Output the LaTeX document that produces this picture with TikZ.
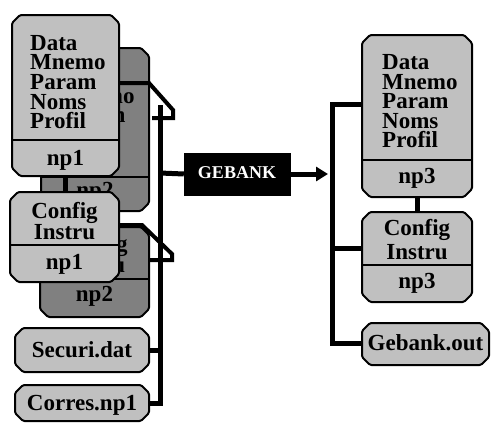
\documentclass[tikz,border=0pt]{standalone}
\usepackage{fontspec}
\setmainfont{Liberation Serif}
\usetikzlibrary{arrows.meta}
\definecolor{boxlight}{RGB}{192,192,192}
\definecolor{boxdark}{RGB}{128,128,128}
\tikzset{
  x=1pt, y=-1pt,
  boxline/.style={draw=black, line width=2pt, rounded corners=1.5pt, line join=round},
  anchorbox/.style={inner sep=0pt, outer sep=0pt, draw=none},
  txt/.style={inner sep=0pt, font=\fontsize{23}{23}\selectfont\bfseries},
  gebtxt/.style={inner sep=0pt, font=\fontsize{18}{18}\selectfont\bfseries, text=white},
  wire/.style={draw=black, line width=5pt, line join=miter},
  flagline/.style={draw=black, line width=4pt, line join=miter},
}
% chamfered box: name, x1, y1, x2, y2, fill colour
\newcommand\chambox[6]{%
  \draw[boxline,fill=#6] ({#2+8},#3) -- ({#4-8},#3) -- (#4,{#3+8}) -- (#4,{#5-8})
    -- ({#4-8},#5) -- ({#2+8},#5) -- (#2,{#5-8}) -- (#2,{#3+8}) -- cycle;
  \node[anchorbox,minimum width={(#4-#2)*1pt},minimum height={(#5-#3)*1pt}]
    (#1) at ({(#2+#4)/2},{(#3+#5)/2}) {};
}
% horizontal divider across a box at height y
\newcommand\divider[2]{\draw[boxline] (#1.west |- 0,#2) -- (#1.east |- 0,#2);}
\begin{document}
\begin{tikzpicture}
\useasboundingbox (0,0) rectangle (491,423);

% ---- stacked copies behind (np2)
\chambox{Lb}{41}{48}{149}{211}{boxdark}
\divider{Lb}{177}
\foreach \t/\b [count=\i] in {Data/83,Mnemo/103,Param/122.5,Noms/142,Profil/161}
  \node[txt,anchor=base west] (Lbt\i) at (59,\b) {\t};
\node[txt,anchor=base] (Lbn) at (95,197) {np2};

\chambox{Cb}{40}{227}{149}{317}{boxdark}
\divider{Cb}{279}
\node[txt,anchor=base] (Cbt1) at (94.5,251) {Config};
\node[txt,anchor=base] (Cbt2) at (94.5,272) {Instru};
\node[txt,anchor=base] (Cbn) at (94.5,301) {np2};

% ---- attachment flags of the back copies
\draw[flagline] (119,83) coordinate (fa1) -- (149,83) -- (173,110) -- (173,118) -- (152,118) coordinate (fa2);
\draw[flagline] (119,225) coordinate (fb1) -- (142,225) -- (172,254) -- (172,260) -- (150,260) coordinate (fb2);

% ---- input files
\chambox{Sec}{15}{328}{149}{372}{boxlight}
\node[txt,anchor=base] (Sect) at (82,357) {Securi.dat};
\chambox{Cor}{15}{385}{149}{421}{boxlight}
\node[txt,anchor=base] (Cort) at (82,410) {Corres.np1};

% ---- left bus
\coordinate (busTop) at (160,105);
\coordinate (busSec) at (160,350);
\coordinate (busGeb) at (160,173);
\draw[wire] (busTop) -- (busTop |- Cor.east) -- (Cor.east);
\draw[wire] (busSec) -- (Sec.east);

% ---- front boxes (np1)
\chambox{Lf}{12}{15}{119}{176}{boxlight}
\divider{Lf}{140}
\foreach \t/\b [count=\i] in {Data/50,Mnemo/70,Param/89.5,Noms/109,Profil/128}
  \node[txt,anchor=base west] (Lft\i) at (30,\b) {\t};
\node[txt,anchor=base] (Lfn) at (65.5,165) {np1};

\chambox{Cf}{10}{192}{119}{282}{boxlight}
\divider{Cf}{245}
\node[txt,anchor=base] (Cft1) at (64.5,218) {Config};
\node[txt,anchor=base] (Cft2) at (64.5,239) {Instru};
\node[txt,anchor=base] (Cfn) at (64.5,269) {np1};

\draw[wire] (Lf.south) -- (Lf.south |- Cf.north);

% ---- GEBANK
\node[fill=black, draw=black, minimum width=106pt, minimum height=42pt, inner sep=0pt] (geb) at (237,174) {};
\node[gebtxt,anchor=base] (gebt) at (237,178) {GEBANK};
\draw[wire] (busGeb) -- (geb.west);

% ---- right bus
\coordinate (rbusTop) at (332,104);
\coordinate (rbusGeb) at (332,174);
\coordinate (rbusCfg) at (332,248);
\coordinate (rbusOut) at (332,343);
\draw[wire, -{Triangle[length=12pt,width=14pt]}, shorten >=4pt] (geb.east) -- (rbusGeb);

% ---- outputs (np3)
\chambox{Rf}{362}{35}{472}{197}{boxlight}
\divider{Rf}{160}
\foreach \t/\b [count=\i] in {Data/70,Mnemo/89,Param/108,Noms/128,Profil/147}
  \node[txt,anchor=base west] (Rft\i) at (382,\b) {\t};
\node[txt,anchor=base] (Rfn) at (417,183) {np3};

\chambox{Rc}{362}{212}{472}{302}{boxlight}
\divider{Rc}{265}
\node[txt,anchor=base] (Rct1) at (417,235) {Config};
\node[txt,anchor=base] (Rct2) at (417,259) {Instru};
\node[txt,anchor=base] (Rcn) at (417,288) {np3};

\chambox{Out}{362}{323}{489}{365}{boxlight}
\node[txt,anchor=base] (Outt) at (425.5,350) {Gebank.out};

\draw[wire] (Rf.west |- rbusTop) -- (rbusTop) -- (rbusOut) -- (Out.west |- rbusOut);
\draw[wire] (rbusCfg) -- (Rc.west |- rbusCfg);
\draw[wire] (Rf.south) -- (Rc.north);
\end{tikzpicture}
\end{document}
